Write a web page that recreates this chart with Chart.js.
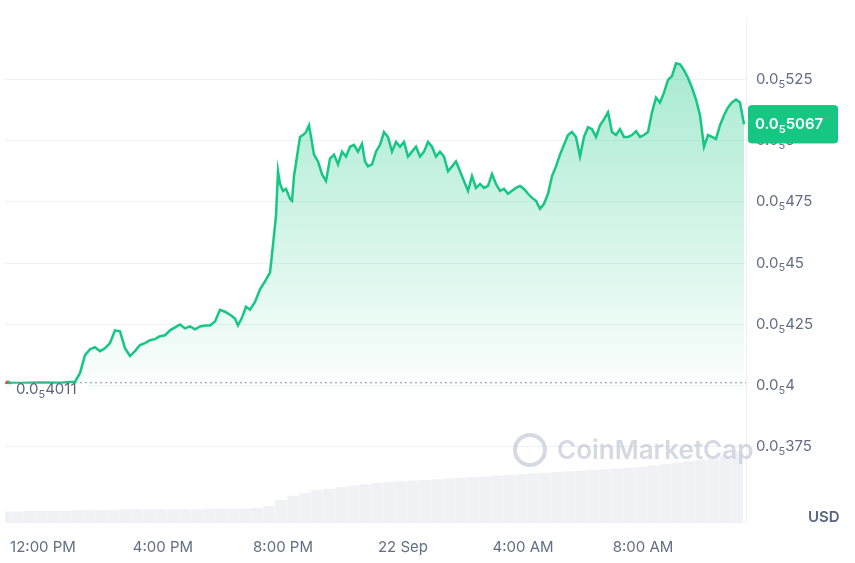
<!DOCTYPE html>
<html><head><meta charset="utf-8">
<script src="https://cdn.jsdelivr.net/npm/chart.js@4"></script>
<style>html,body{margin:0;padding:0;background:#fff}canvas{display:block}</style>
</head><body><canvas id="c" width="855" height="563"></canvas>
<script>
// minutes since 12:00 PM (21 Sep); prices in units of 1e-6 USD
const times = [-76,-46,-6,34,64,74,84,94,104,114,124,134,144,154,164,174,184,194,204,214,224,234,244,254,264,274,284,294,304,314,324,334,344,354,364,374,384,390,398,406,414,424,434,444,454,460,466,470,474,480,486,494,498,502,508,514,520,526,532,536,542,550,
558,566,574,582,590,598,606,614,622,630,638,644,
650,658,666,674,682,690,698,706,714,722,730,738,746,754,762,770,778,786,794,802,810,818,826,834,842,850,858,866,874,882,890,898,906,914,922,930,938,946,954,962,970,978,986,994,1002,1010,1018,1026,1034,1042,1050,1058,1066,1074,1082,1090,1098,1106,1114,1122,1130,1138,1146,1154,1162,1170,1178,1186,1194,1202,1210,1218,1226,1234,1242,1250,1258,1266,1274,1282,1290,1298,1306,1314,1322,1330,1338,1346,1354,1362,1370,1378,1386,1394,1402];
const prices = [4.011,4.010,4.012,4.011,4.015,4.05,4.124,4.148,4.156,4.140,4.152,4.173,4.225,4.221,4.152,4.120,4.140,4.165,4.173,4.185,4.189,4.201,4.205,4.225,4.237,4.249,4.233,4.241,4.229,4.241,4.245,4.245,4.261,4.309,4.301,4.289,4.273,4.245,4.277,4.321,4.309,4.341,4.393,4.425,4.461,4.574,4.694,4.875,4.823,4.795,4.803,4.762,4.754,4.855,4.935,5.015,5.023,5.035,5.063,5.015,4.943,4.915,
4.863,4.835,4.927,4.943,4.903,4.955,4.935,4.975,4.983,4.955,4.987,4.915,
4.895,4.903,4.955,4.983,5.035,5.015,4.955,4.995,4.975,4.995,4.935,4.955,4.975,4.935,4.955,4.995,4.975,4.935,4.955,4.935,4.875,4.895,4.915,4.875,4.835,4.795,4.855,4.807,4.823,4.807,4.815,4.863,4.823,4.795,4.803,4.783,4.795,4.807,4.815,4.803,4.783,4.766,4.754,4.722,4.742,4.783,4.855,4.895,4.943,4.983,5.023,5.035,5.015,4.935,5.015,5.055,5.047,5.015,5.063,5.087,5.116,5.035,5.023,5.047,5.015,5.015,5.023,5.039,5.015,5.023,5.035,5.116,5.176,5.156,5.196,5.248,5.264,5.316,5.312,5.288,5.256,5.216,5.168,5.104,4.975,5.023,5.015,5.007,5.063,5.104,5.136,5.156,5.168,5.156,5.067];
const volTimes = [-76,-52,-28,-4,20,44,68,92,116,140,164,188,212,236,260,284,308,332,356,380,404,428,452,476,500,524,548,572,596,620,644,668,692,716,740,764,788,812,836,860,884,908,932,956,980,1004,1028,1052,1076,1100,1124,1148,1172,1196,1220,1244,1268,1292,1316,1340,1364,1388];
const volumes = [14,14,15,15,15,15,16,16,16,16,17,17,17,17,17,17,17,18,18,18,18,19,22,30,36,40,44,46,48,50,52,54,55,56,57,58,59,60,61,62,63,64,65,66,67,68,69,70,71,72,73,74,75,76,78,80,82,84,86,88,92,98];
const yTicks = [3.75,4,4.25,4.5,4.75,5,5.25];
const xTicks = [0,240,480,720,960,1200];
const xTickLabels = ['12:00 PM','4:00 PM','8:00 PM','22 Sep','4:00 AM','8:00 AM'];
const openPrice = 4.011, lastPrice = 5.067;

const FONT = 'Inter, "Noto Sans", sans-serif';
const GRAY = '#616e85';
const digits = v => String(Math.round(v*1000)/1000).replace('.','');

function drawSub(ctx, x, y, v, weight, color){
  ctx.fillStyle=color; ctx.textBaseline='middle'; ctx.textAlign='left';
  ctx.font=weight+'15px '+FONT; ctx.fillText('0.0',x,y); const w=ctx.measureText('0.0').width;
  ctx.font=weight+'11px '+FONT; ctx.fillText('5',x+w,y+5); const w2=ctx.measureText('5').width;
  ctx.font=weight+'15px '+FONT; ctx.fillText(v,x+w+w2,y);
}

const overlay = {
  id:'overlay',
  beforeDatasetsDraw(ch){
    const {ctx} = ch;
    ctx.save();
    ctx.font = '600 26px '+FONT; ctx.fillStyle='rgba(160,170,190,0.45)';
    ctx.textBaseline='middle';
    ctx.beginPath(); ctx.arc(530,450,15,0,Math.PI*2); ctx.lineWidth=4; ctx.strokeStyle='rgba(160,170,190,0.45)'; ctx.stroke();
    ctx.fillText('CoinMarketCap',557,451);
    ctx.restore();
  },
  afterDatasetsDraw(ch){
    const {ctx, chartArea:a, scales:{x,y}} = ch;
    ctx.save();
    const yy = y.getPixelForValue(openPrice);
    ctx.setLineDash([2,3]); ctx.strokeStyle='#8a94a6'; ctx.lineWidth=1;
    ctx.beginPath(); ctx.moveTo(a.left,yy); ctx.lineTo(a.right,yy); ctx.stroke();
    ctx.setLineDash([]);
    ctx.fillStyle='#fff'; ctx.fillRect(12,yy+1,76,16);
    ctx.fillStyle='#e74c3c'; ctx.fillRect(6,yy-2,2,3);
    ctx.fillStyle='#16c784'; ctx.fillRect(8,yy-2,2,3);
    drawSub(ctx,16,yy+7,'4011','','#58667e');
    const by = y.getPixelForValue(lastPrice);
    ctx.fillStyle='#16c784';
    ctx.beginPath(); ctx.roundRect(748,by-19,90,38,4); ctx.fill();
    drawSub(ctx,755,by,'5067','600 ','#fff');
    ctx.fillStyle='#58667e'; ctx.font='600 15px '+FONT; ctx.textBaseline='middle';
    ctx.fillText('USD',808,517);
    ctx.restore();
  },
  afterDraw(ch){
    const {ctx, scales:{y}} = ch;
    ctx.save();
    yTicks.forEach(v=>{ drawSub(ctx,756,y.getPixelForValue(v),digits(v),'',GRAY); });
    // re-draw badge on top of ticks
    const by = y.getPixelForValue(lastPrice);
    ctx.fillStyle='#16c784';
    ctx.beginPath(); ctx.roundRect(748,by-19,90,38,4); ctx.fill();
    drawSub(ctx,755,by,'5067','600 ','#fff');
    ctx.restore();
  }
};

const ctx = document.getElementById('c').getContext('2d');
const grad = ctx.createLinearGradient(0,55,0,400);
grad.addColorStop(0,'rgba(22,199,132,0.38)');
grad.addColorStop(1,'rgba(22,199,132,0.0)');

new Chart(ctx,{
  data:{datasets:[
    {type:'line',data:times.map((t,i)=>({x:t,y:prices[i]})),borderColor:'#16c784',borderWidth:2.5,pointRadius:0,tension:0,fill:'start',backgroundColor:grad,yAxisID:'y',order:1},
    {type:'bar',data:volTimes.map((t,i)=>({x:t,y:volumes[i]})),backgroundColor:'rgba(205,210,220,0.3)',barThickness:11,yAxisID:'v',order:2}
  ]},
  options:{
    responsive:false,animation:false,
    layout:{padding:{left:5,top:10,right:0,bottom:0}},
    plugins:{legend:{display:false},tooltip:{enabled:false}},
    scales:{
      x:{type:'linear',min:-76,max:1406,offset:false,
        afterBuildTicks:s=>{s.ticks=xTicks.map(v=>({value:v}));},
        afterFit:s=>{s.height=41;},
        grid:{display:false,offset:false},border:{display:true,color:'#eff2f5'},
        ticks:{color:GRAY,font:{size:15,family:FONT},maxRotation:0,padding:8,callback:(v)=>xTickLabels[xTicks.indexOf(v)]}},
      y:{position:'right',min:3.442,max:5.497,
        afterBuildTicks:s=>{s.ticks=yTicks.map(v=>({value:v}));},
        afterFit:s=>{s.width=109;},
        grid:{color:'#eff2f5',drawTicks:false},border:{display:true,color:'#eff2f5'},
        ticks:{color:'rgba(0,0,0,0)',font:{size:15,family:FONT},padding:10,callback:v=>''}},
      v:{display:false,min:0,max:700}
    }
  },
  plugins:[overlay]
});
</script></body></html>
